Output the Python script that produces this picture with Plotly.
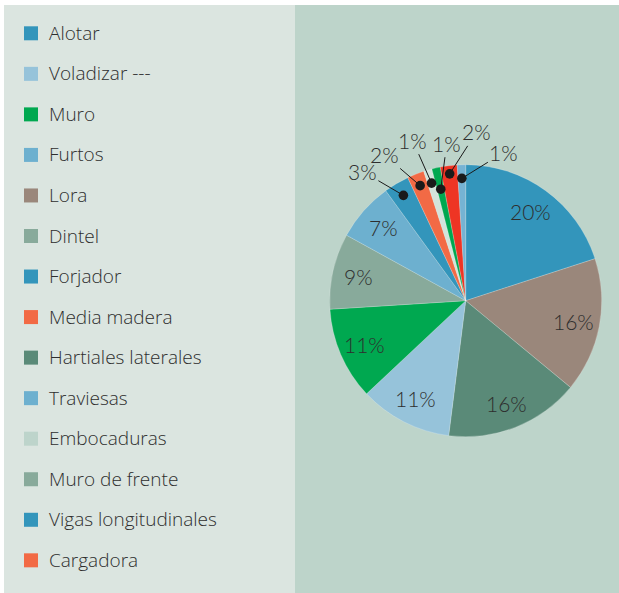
import math
import plotly.graph_objects as go

# ---- data -------------------------------------------------------------
# pie slices, clockwise from 12 o'clock
slice_names = ["Alotar", "Lora", "Hartiales laterales", "Voladizar ---", "Muro",
               "Dintel", "Furtos", "Forjador", "Media madera", "Embocaduras",
               "Muro (2)", "Otros", "Traviesas"]
slice_values = [20, 16, 16, 11, 11, 9, 7, 3, 2, 1, 1, 2, 1]
slice_colors = ["#3395bb", "#9a877b", "#5a8a78", "#96c3da", "#00a850",
                "#88aa9b", "#6db0cf", "#3395bb", "#f26a45", "#d3e4db",
                "#00a850", "#ee3524", "#76b3d3"]

# legend entries
legend_names = ["Alotar", "Voladizar ---", "Muro", "Furtos", "Lora", "Dintel",
                "Forjador", "Media madera", "Hartiales laterales", "Traviesas",
                "Embocaduras", "Muro de frente", "Vigas longitudinales", "Cargadora"]
legend_colors = ["#3395bb", "#96c3da", "#00a850", "#6db0cf", "#9a877b", "#88aa9b",
                 "#3395bb", "#f26a45", "#5a8a78", "#6db0cf", "#bdd4cb", "#88aa9b",
                 "#3395bb", "#f26a45"]

# ---- layout geometry (pixels) -----------------------------------------
W, H = 619, 593
CX, CY, R = 465.7, 300.7, 136.0
LEFT_BG, RIGHT_BG = "#dbe5e0", "#bdd4ca"
TEXT = "#2e2e2e"

# small slices get a callout: radius fraction of the dot, text offset (px)
callouts = {
    7: (0.90, -41, -24),
    8: (0.91, -36, -31),
    9: (0.90, -19, -43),
    10: (0.84, 6, -46),
    11: (0.94, 27, -42),
    12: (0.90, 42, -26),
}
INSIDE_R = 0.81


def px(x):
    return x / W


def py(y):
    return (H - y) / H


def polar(frac, rfrac):
    th = 2 * math.pi * frac
    x = CX + rfrac * R * math.sin(th)
    y = CY - rfrac * R * math.cos(th)
    return px(x), py(y)


fig = go.Figure()
fig.add_trace(go.Pie(
    labels=slice_names,
    values=slice_values,
    sort=False,
    direction="clockwise",
    rotation=0,
    marker=dict(colors=slice_colors, line=dict(color="rgba(255,255,255,0.35)", width=0.6)),
    textinfo="none",
    hoverinfo="label+percent",
    showlegend=False,
    domain=dict(x=[px(CX - R), px(CX + R)], y=[py(CY + R), py(CY - R)]),
))

annotations = []
shapes = []

# panels
shapes.append(dict(type="rect", xref="paper", yref="paper", layer="below",
                   x0=px(4), x1=px(295), y0=py(593), y1=py(5),
                   fillcolor=LEFT_BG, line=dict(width=0)))
shapes.append(dict(type="rect", xref="paper", yref="paper", layer="below",
                   x0=px(295), x1=1, y0=py(593), y1=py(5),
                   fillcolor=RIGHT_BG, line=dict(width=0)))

pct_font = dict(family="Lato", size=21, color=TEXT, weight=300)

# percentage labels
total = sum(slice_values)
cum = 0
for i, v in enumerate(slice_values):
    mid = (cum + v / 2) / total
    cum += v
    label = f"{round(100 * v / total)}%"
    if i in callouts:
        rf, ax, ay = callouts[i]
        x, y = polar(mid, rf)
        annotations.append(dict(
            x=x, y=y, xref="paper", yref="paper", text=label,
            showarrow=True, ax=ax, ay=ay, arrowhead=6, arrowsize=2.4,
            arrowwidth=1.0, arrowcolor="#1a1a1a", font=pct_font))
    else:
        x, y = polar(mid, INSIDE_R)
        annotations.append(dict(
            x=x, y=y, xref="paper", yref="paper", text=label, showarrow=False,
            xanchor="center", yanchor="middle", font=pct_font))

# legend
LEG_Y0, LEG_DY, SQ = 33.3, 40.54, 14
for k, (name, col) in enumerate(zip(legend_names, legend_colors)):
    yc = LEG_Y0 + k * LEG_DY
    shapes.append(dict(type="rect", xref="paper", yref="paper",
                       x0=px(24), x1=px(24 + SQ), y0=py(yc + SQ / 2), y1=py(yc - SQ / 2),
                       fillcolor=col, line=dict(width=0)))
    annotations.append(dict(
        x=px(47), y=py(yc - 0.5), xref="paper", yref="paper", text=name,
        showarrow=False, xanchor="left", yanchor="middle",
        font=dict(family="Open Sans", size=19, color=TEXT, weight=300)))

fig.update_layout(
    width=W, height=H,
    margin=dict(l=0, r=0, t=0, b=0),
    paper_bgcolor="white",
    shapes=shapes,
    annotations=annotations,
)

fig.write_html("out.html")
